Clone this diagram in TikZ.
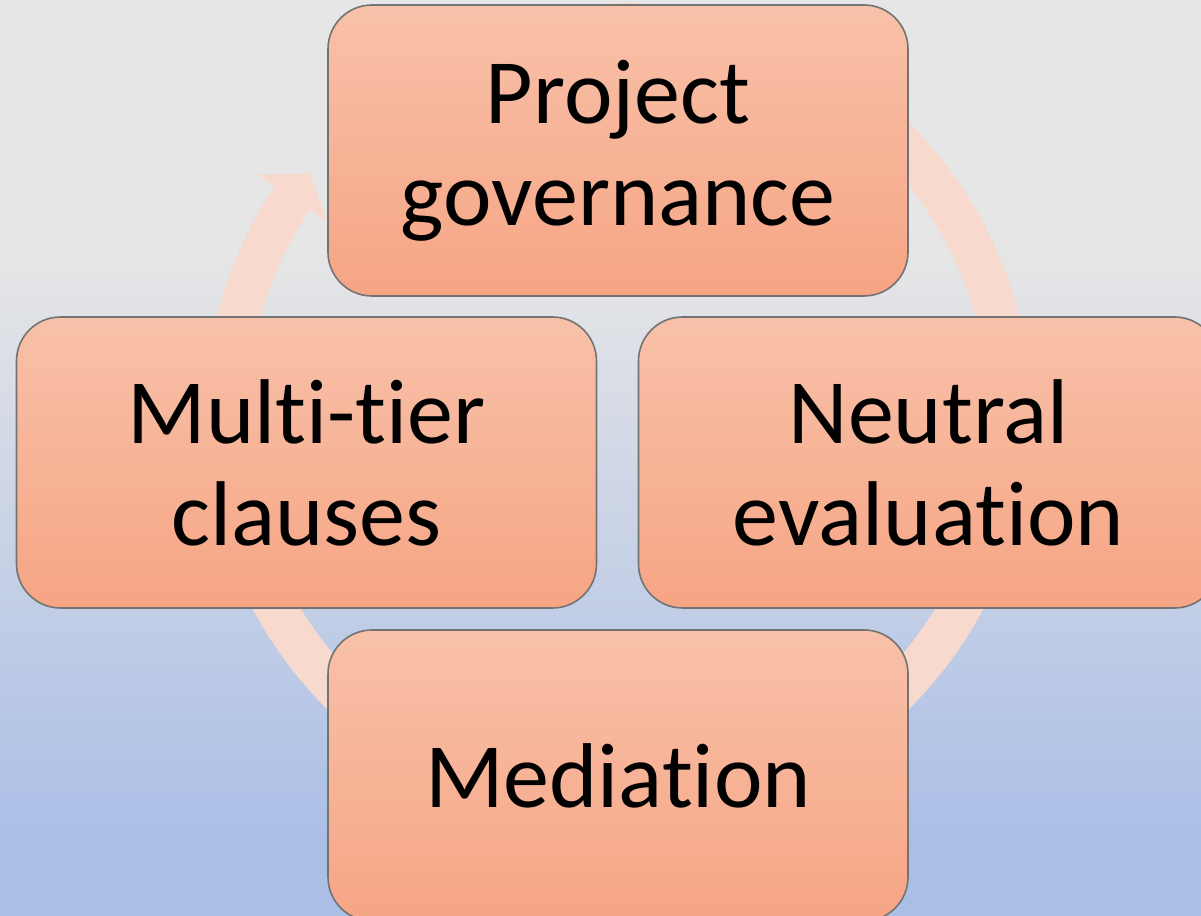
\documentclass[tikz,border=0pt]{standalone}
\usepackage{fontspec}
\setmainfont[Ligatures={NoCommon}]{Carlito}
\usepackage{tikz}
\usetikzlibrary{positioning}

\definecolor{bgtop}{RGB}{230,230,230}
\definecolor{bgbot}{RGB}{170,190,230}
\definecolor{boxtop}{RGB}{248,193,169}
\definecolor{boxbot}{RGB}{246,165,132}
\definecolor{boxline}{RGB}{115,115,115}
\definecolor{ringfill}{RGB}{248,217,206}

\tikzset{
    stage/.style={rectangle, rounded corners=22pt, draw=boxline, line width=0.8pt,
        top color=boxtop, bottom color=boxbot, inner sep=0pt,
        minimum width=290pt, minimum height=145.5pt, align=center,
        font=\fontsize{46}{51}\selectfont}
}

\begin{document}
\begin{tikzpicture}[x=0.5pt, y=0.5pt]
        \useasboundingbox (0,0) rectangle (1201,916);
        \clip (0,0) rectangle (1201,916);

        % Draw the background
        \fill[bgbot] (0,0) rectangle (1201,70);
        \shade[top color=bgtop, bottom color=bgbot] (0,69) rectangle (1201,667);
        \fill[bgtop] (0,666) rectangle (1201,916);

        % Draw the circular arrow behind the boxes
        \fill[ringfill, shift={(618,500)}]
                (90:413) arc[start angle=90, end angle=-213.8, radius=413]
                -- (-213.8:434) -- (-218.2:392) -- (-213.8:350)
                -- (-213.8:371) arc[start angle=-213.8, end angle=90, radius=371] -- cycle;

        % Draw the four stages
        \node[stage] (gov) at (618,765.5) {Project\\governance};
        \node[stage] (neutral) at (928.5,453.5) {Neutral\\evaluation};
        \node[stage] (mediation) at (618,140.5) {Mediation};
        \node[stage] (tiers) at (306.5,453.5) {Multi-tier\\clauses};
\end{tikzpicture}
\end{document}
